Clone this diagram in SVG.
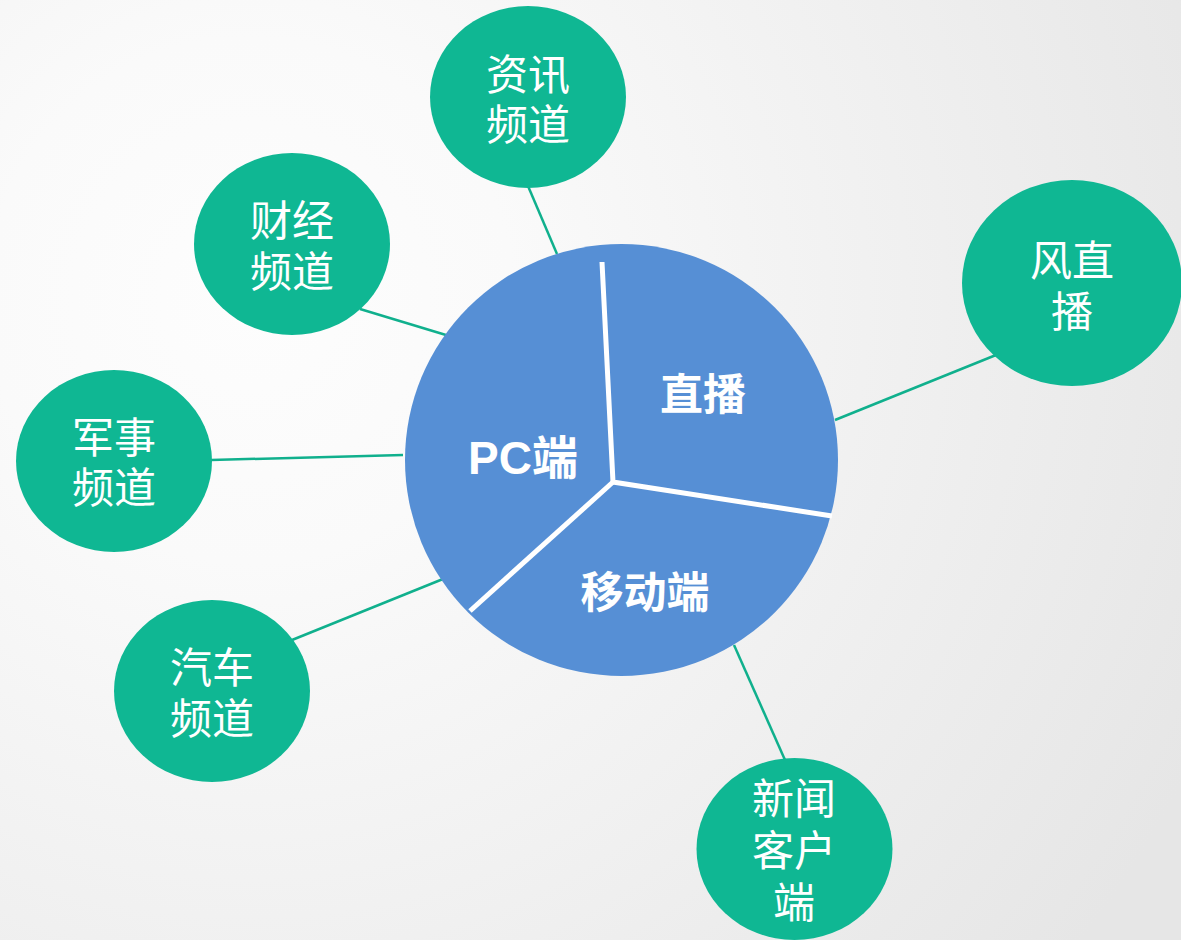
<svg xmlns="http://www.w3.org/2000/svg" width="1181" height="940" viewBox="0 0 1181 940">
<defs>
<radialGradient id="bg" cx="250" cy="300" r="1050" gradientUnits="userSpaceOnUse">
<stop offset="0" stop-color="#fdfdfd"/>
<stop offset="0.25" stop-color="#fafafa"/>
<stop offset="1" stop-color="#e6e6e6"/>
</radialGradient>
<style>
.sat{fill:#0fb793}
.lbl{fill:#ffffff;font-family:"Liberation Sans","Noto Sans CJK SC",sans-serif;font-size:42px;text-anchor:middle}
.big{fill:#ffffff;font-family:"Liberation Sans","Noto Sans CJK SC",sans-serif;font-size:43px;font-weight:bold;text-anchor:middle}
.conn{stroke:#10b08d;stroke-width:2.5;fill:none}
.div{stroke:#ffffff;stroke-width:5;fill:none}
</style>
</defs>
<rect width="1181" height="940" fill="url(#bg)"/>
<g id="connectors">
<line class="conn" x1="528" y1="186" x2="557" y2="254"/>
<line class="conn" x1="360" y1="309" x2="446" y2="335"/>
<line class="conn" x1="211" y1="460" x2="403" y2="455"/>
<line class="conn" x1="292" y1="640" x2="443" y2="579"/>
<line class="conn" x1="734" y1="645" x2="785" y2="760"/>
<line class="conn" x1="835" y1="420" x2="996" y2="355"/>
</g>
<g id="center">
<ellipse cx="621.5" cy="460" rx="216.5" ry="216" fill="#568fd5"/>
<polyline class="div" points="602,262 613,482 832,516"/>
<line class="div" x1="613" y1="482" x2="470" y2="611"/>
<text class="big" x="523" y="474" style="font-size:46px">PC端</text>
<text class="big" x="703" y="410">直播</text>
<text class="big" x="645" y="608">移动端</text>
</g>
<g id="n-zixun">
<ellipse class="sat" cx="528" cy="97" rx="98" ry="91"/>
<text class="lbl" x="528" y="90">资讯</text>
<text class="lbl" x="528" y="140">频道</text>
</g>
<g id="n-caijing">
<ellipse class="sat" cx="292" cy="244" rx="98" ry="91"/>
<text class="lbl" x="292" y="236">财经</text>
<text class="lbl" x="292" y="287">频道</text>
</g>
<g id="n-junshi">
<ellipse class="sat" cx="114" cy="461" rx="98" ry="91"/>
<text class="lbl" x="114" y="453">军事</text>
<text class="lbl" x="114" y="503">频道</text>
</g>
<g id="n-qiche">
<ellipse class="sat" cx="212" cy="691" rx="98" ry="91"/>
<text class="lbl" x="212" y="683">汽车</text>
<text class="lbl" x="212" y="734">频道</text>
</g>
<g id="n-xinwen">
<ellipse class="sat" cx="794.5" cy="849" rx="98" ry="91"/>
<text class="lbl" x="794" y="814">新闻</text>
<text class="lbl" x="794" y="866">客户</text>
<text class="lbl" x="794" y="918">端</text>
</g>
<g id="n-fengzhibo">
<ellipse class="sat" cx="1072" cy="283" rx="110" ry="103"/>
<text class="lbl" x="1072" y="276">风直</text>
<text class="lbl" x="1072" y="327">播</text>
</g>
</svg>
